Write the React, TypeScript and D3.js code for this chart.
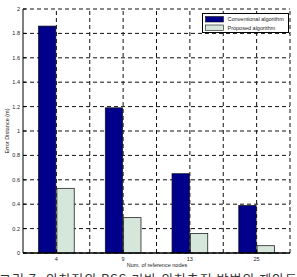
import React from 'react';
import * as d3 from 'd3';

const categories = ['4', '9', '13', '25'];
const conventional = [1.86, 1.19, 0.65, 0.39];
const proposed = [0.53, 0.29, 0.16, 0.06];
const yTicks = [0, 0.2, 0.4, 0.6, 0.8, 1, 1.2, 1.4, 1.6, 1.8, 2];
const seriesNames = ['Conventional algorithm', 'Proposed algorithm'];
const seriesColors = ['#00008a', '#d5e7da'];

const W = 297, H = 277;
const margin = {left: 23, right: 7, top: 9, bottom: 24};

export default function App() {
    // categories sit at index 1..4, axis spans 0.5..4.5 like matlab bar()
    const x = d3.scaleLinear().domain([0.5, categories.length + 0.5]).range([margin.left, W - margin.right]);
    const y = d3.scaleLinear().domain([0, 2]).range([H - margin.bottom, margin.top]);
    const barW = (x(1) - x(0)) * 0.26;
    const gap = 1;

    const vGrid = [1, 1.5, 2, 2.5, 3, 3.5, 4, 4.5];
    const font = 'Liberation Sans, Arial, sans-serif';

    const gridPath = yTicks.map(t => `M${x(0.5)},${y(t)}H${x(4.5)}`).join('')
        + vGrid.map(v => `M${x(v)},${y(0)}V${y(2)}`).join('');

    return (
        <svg width={W} height={H} style={{position: 'absolute', left: 0, top: 0}} fontFamily={font}>
            {/* grid */}
            <path d={gridPath} fill="none" stroke="#111" strokeWidth={1} strokeDasharray="4 3" />
            {/* bars */}
            {categories.map((c, i) => (
                <g key={c}>
                    <rect x={x(i + 1) - barW - gap / 2} width={barW} y={y(conventional[i])}
                          height={y(0) - y(conventional[i])} fill={seriesColors[0]} stroke="#111" strokeWidth={0.7} />
                    <rect x={x(i + 1) + gap / 2} width={barW} y={y(proposed[i])}
                          height={y(0) - y(proposed[i])} fill={seriesColors[1]} stroke="#222" strokeWidth={0.8} />
                </g>
            ))}
            {/* axes */}
            <path d={`M${x(0.5)},${y(2)}V${y(0)}`} stroke="#000" strokeWidth={1} />
            <path d={`M${x(0.5)},${y(0)}H${x(4.5)}`} stroke="#000" strokeWidth={1.5} />
            {yTicks.map(t => (
                <g key={'ty' + t}>
                    <path d={`M${x(0.5)},${y(t)}h3`} stroke="#000" strokeWidth={1} />
                    <text x={x(0.5) - 3} y={y(t) + 2} fontSize={5.5} textAnchor="end" fill="#222">{t}</text>
                </g>
            ))}
            {categories.map((c, i) => (
                <g key={'tx' + c}>
                    <path d={`M${x(i + 1)},${y(0)}v-3`} stroke="#000" strokeWidth={1} />
                    <text x={x(i + 1)} y={y(0) + 8} fontSize={5.5} textAnchor="middle" fill="#222">{c}</text>
                </g>
            ))}
            <text x={157} y={267} fontSize={5.5} textAnchor="middle" fill="#222">Num. of reference nodes</text>
            <text transform={`translate(9,${(y(0) + y(2)) / 2}) rotate(-90)`} fontSize={5.5}
                  textAnchor="middle" fill="#222">Error Distance (m)</text>
            {/* legend */}
            <g transform="translate(202.5,13.5)">
                <rect width={86} height={19} fill="#fff" stroke="#000" strokeWidth={1} />
                {seriesNames.map((s, i) => (
                    <g key={s} transform={`translate(3,${3 + i * 8.5})`}>
                        <rect width={18} height={5.5} fill={seriesColors[i]} stroke="#111" strokeWidth={0.6} />
                        <text x={22} y={4.8} fontSize={5.5} fill="#222">{s}</text>
                    </g>
                ))}
            </g>
            {/* caption, only its top half is inside the crop */}
            <text x={-1} y={284} fontSize={13} fill="#333" fontFamily="Noto Sans CJK KR" textLength={298}
                  lengthAdjust="spacing">그림 7. 위치정의 RSS 기반 위치추정 방법의 제안도</text>
        </svg>
    );
}
